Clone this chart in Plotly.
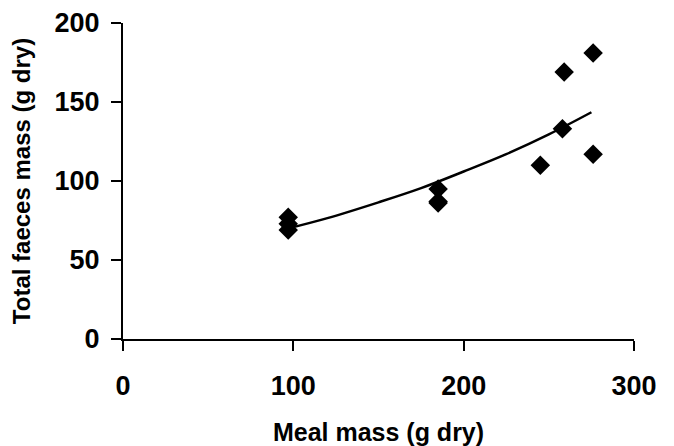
import plotly.graph_objects as go

meal_mass = [97, 97, 97, 185, 185, 185, 245, 258, 259, 276, 276]
faeces_mass = [77, 73, 69, 95, 87, 86, 110, 133, 169, 181, 117]

# Trend line
trend_x = [97, 120, 150, 175, 200, 225, 250, 275]
trend_y = [70, 76.5, 86.5, 95.5, 106, 117, 129.5, 143.5]

x_ticks = [0, 100, 200, 300]
y_ticks = [0, 50, 100, 150, 200]

font_family = "Liberation Sans, Arial, sans-serif"

fig = go.Figure()
fig.add_trace(go.Scatter(
    x=trend_x, y=trend_y, mode="lines",
    line=dict(color="black", width=2.5, shape="spline"),
    hoverinfo="skip", showlegend=False,
))
fig.add_trace(go.Scatter(
    x=meal_mass, y=faeces_mass, mode="markers",
    marker=dict(symbol="diamond", size=15, color="black"),
    showlegend=False,
))

axis_common = dict(
    showline=True, linecolor="black", linewidth=2,
    ticks="outside", ticklen=10, tickwidth=2, tickcolor="black",
    showgrid=False, zeroline=False, automargin=False,
    tickfont=dict(family=font_family, size=27, color="black", weight="bold"),
)

fig.update_layout(
    width=666, height=438,
    margin=dict(l=115, r=40, t=15, b=107),
    paper_bgcolor="white", plot_bgcolor="white",
    font=dict(family=font_family, color="black"),
    xaxis=dict(
        range=[0, 300], tickvals=x_ticks, ticklabelstandoff=12,
        title=dict(text="<b>Meal mass (g dry)</b>", font=dict(size=25), standoff=25),
        **axis_common,
    ),
    yaxis=dict(
        range=[0, 200], tickvals=y_ticks, ticklabelstandoff=6,
        title=dict(text="<b>Total faeces mass (g dry)</b>", font=dict(size=24), standoff=21),
        **axis_common,
    ),
)

fig.write_html("out.html")
